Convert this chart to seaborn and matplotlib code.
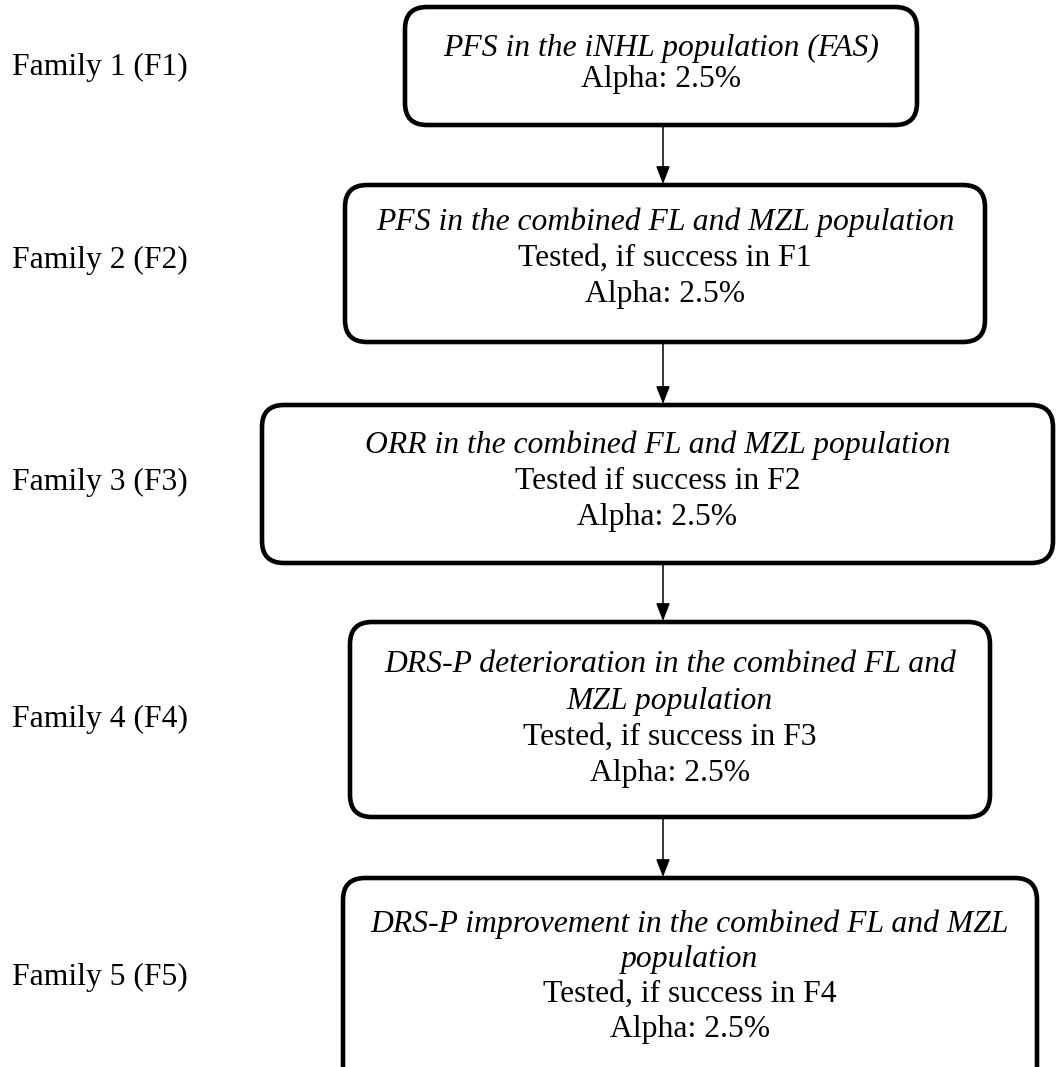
import matplotlib
matplotlib.use("Agg")
import matplotlib.pyplot as plt
from matplotlib.patches import FancyBboxPatch
import seaborn as sns

# Data

FAMILIES = ["Family 1 (F1)", "Family 2 (F2)", "Family 3 (F3)", "Family 4 (F4)", "Family 5 (F5)"]
ENDPOINTS = [
    ["PFS in the iNHL population (FAS)"],
    ["PFS in the combined FL and MZL population"],
    ["ORR in the combined FL and MZL population"],
    ["DRS-P deterioration in the combined FL and", "MZL population"],
    ["DRS-P improvement in the combined FL and MZL", "population"],
]
CONDITIONS = [None, "Tested, if success in F1", "Tested if success in F2",
              "Tested, if success in F3", "Tested, if success in F4"]
ALPHAS = ["2.5%", "2.5%", "2.5%", "2.5%", "2.5%"]

# Layout (pixels, y downwards)

BOX_LEFT = [405, 345, 262, 350, 343]
BOX_RIGHT = [917, 985, 1053, 990, 1037]
BOX_TOP = [7, 185, 405, 622, 878]
BOX_BOTTOM = [125, 342, 563, 817, 1090]
TEXT_FIRST = [56, 230, 453, 672, 932]
TEXT_GAP = [31, 36, 36, 36.5, 35]
LABEL_Y = [75, 268, 490, 727, 985]
ARROW_X = 663

FONT = "Liberation Serif"
FS = 22.8

sns.set_theme(style="white")
plt.rcParams["font.family"] = [FONT, "DejaVu Serif"]

fig = plt.figure(figsize=(10.56, 10.67), dpi=100)
ax = fig.add_axes([0, 0, 1, 1])
ax.set_xlim(0, 1056)
ax.set_ylim(1067, 0)
ax.axis("off")

for i in range(len(FAMILIES)):
    x0, x1 = BOX_LEFT[i], BOX_RIGHT[i]
    y0, y1 = BOX_TOP[i], BOX_BOTTOM[i]
    box = FancyBboxPatch((x0, y0), x1 - x0, y1 - y0,
                         boxstyle="round,pad=0,rounding_size=22",
                         fc="white", ec="black", lw=3.3, zorder=2)
    ax.add_patch(box)

    cx = (x0 + x1) / 2
    lines = [(t, "italic") for t in ENDPOINTS[i]]
    if CONDITIONS[i]:
        lines.append((CONDITIONS[i], "normal"))
    lines.append(("Alpha: " + ALPHAS[i], "normal"))
    for k, (txt, style) in enumerate(lines):
        ax.text(cx, TEXT_FIRST[i] + k * TEXT_GAP[i], txt, ha="center", va="baseline",
                fontsize=FS, fontstyle=style, color="black", zorder=3)

    ax.text(12, LABEL_Y[i], FAMILIES[i], ha="left", va="baseline",
            fontsize=FS, color="black")

    if i < len(FAMILIES) - 1:
        ax.annotate("", xy=(ARROW_X, BOX_TOP[i + 1] - 1), xytext=(ARROW_X, y1),
                    arrowprops=dict(arrowstyle="-|>,head_length=0.9,head_width=0.35",
                                    color="black", lw=1.1, shrinkA=0, shrinkB=0),
                    zorder=1)

fig.savefig("out.png", dpi=100, facecolor="white")
